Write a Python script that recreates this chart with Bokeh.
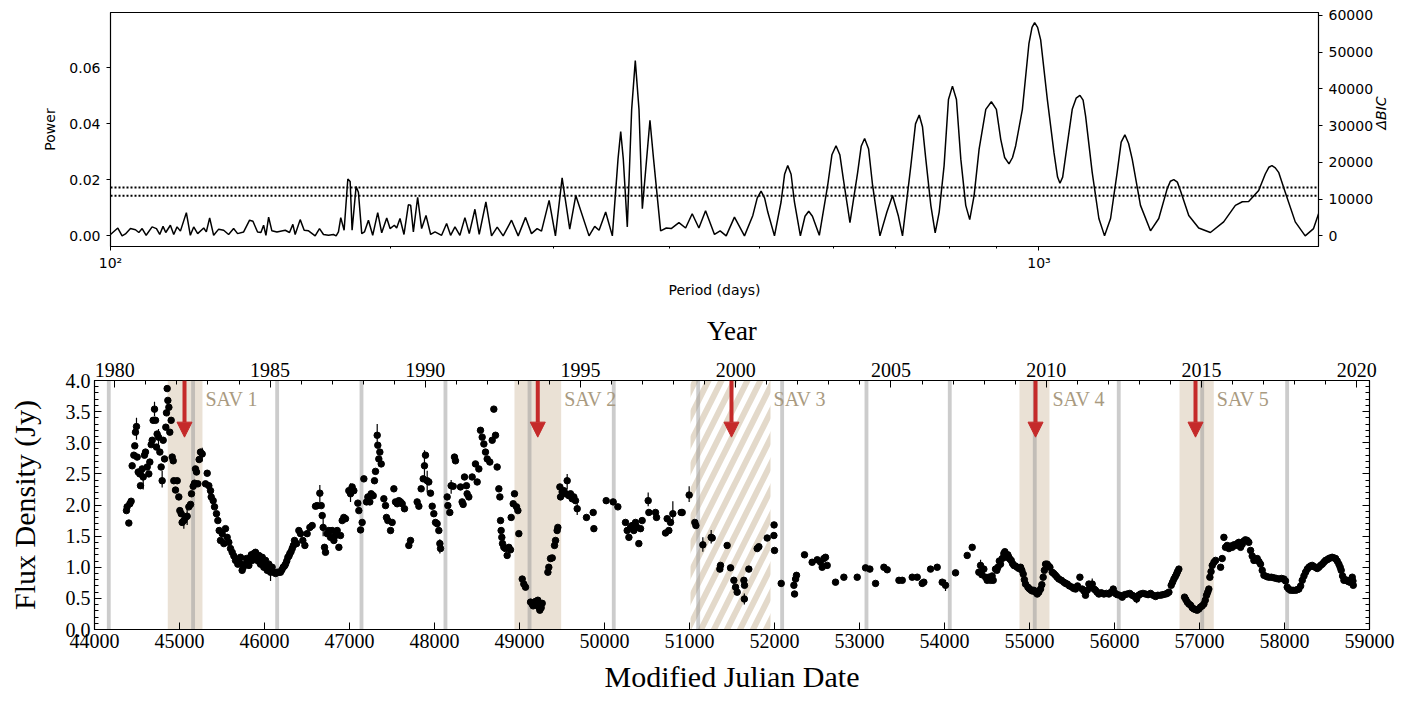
import math
import numpy as np
from bokeh.plotting import figure
from bokeh.models import (ColumnDataSource, Range1d, LinearAxis, FixedTicker, SingleIntervalTicker,
                          NumeralTickFormatter, CustomJSTickFormatter, Span, Arrow, NormalHead)
from bokeh.core.properties import value
from bokeh.embed import file_html
from bokeh.resources import INLINE

# ---------------- top panel: periodogram ----------------
log_period = [
    2.0000, 2.0079, 2.0125, 2.0161, 2.0215, 2.0269, 2.0305, 2.0341, 2.0384, 2.0448,
    2.0495, 2.0530, 2.0566, 2.0595, 2.0645, 2.0681, 2.0717, 2.0753, 2.0817, 2.0860,
    2.0896, 2.0939, 2.1004, 2.1032, 2.1068, 2.1111, 2.1165, 2.1219, 2.1272, 2.1326,
    2.1369, 2.1434, 2.1498, 2.1534, 2.1584, 2.1620, 2.1649, 2.1674, 2.1703, 2.1738,
    2.1792, 2.1882, 2.1928, 2.1964, 2.1989, 2.2043, 2.2086, 2.2133, 2.2204, 2.2251,
    2.2294, 2.2348, 2.2401, 2.2430, 2.2455, 2.2480, 2.2516, 2.2556, 2.2581, 2.2602,
    2.2645, 2.2670, 2.2706, 2.2735, 2.2778, 2.2824, 2.2878, 2.2921, 2.2975, 2.3011,
    2.3057, 2.3082, 2.3118, 2.3161, 2.3208, 2.3233, 2.3262, 2.3308, 2.3351, 2.3398,
    2.3448, 2.3495, 2.3566, 2.3620, 2.3663, 2.3710, 2.3763, 2.3817,
    2.3864, 2.3925, 2.3971, 2.4043, 2.4104, 2.4165, 2.4229, 2.4319, 2.4391, 2.4470,
    2.4534, 2.4595, 2.4642, 2.4724, 2.4792, 2.4864, 2.4946, 2.5011, 2.5154, 2.5215,
    2.5262, 2.5333, 2.5405, 2.5466, 2.5495, 2.5523, 2.5566, 2.5613, 2.5652, 2.5692,
    2.5728, 2.5774, 2.5810, 2.5849, 2.5925, 2.5986, 2.6039, 2.6122, 2.6194, 2.6265,
    2.6337, 2.6409, 2.6505, 2.6566, 2.6631, 2.6720,
    2.6828, 2.6918, 2.6965, 2.7007, 2.7045, 2.7079, 2.7151, 2.7222, 2.7260, 2.7294,
    2.7330, 2.7366, 2.7430, 2.7480, 2.7520, 2.7560, 2.7634, 2.7724, 2.7770, 2.7814,
    2.7855, 2.7893, 2.7964, 2.8047, 2.8085, 2.8122, 2.8165, 2.8208, 2.8287, 2.8362,
    2.8423, 2.8484, 2.8530, 2.8620, 2.8670, 2.8710, 2.8745, 2.8781, 2.8835, 2.8882,
    2.8925, 2.8978, 2.9025, 2.9068, 2.9111, 2.9158, 2.9211, 2.9254, 2.9301, 2.9355,
    2.9427, 2.9487, 2.9541, 2.9588, 2.9630, 2.9677, 2.9715, 2.9749, 2.9821, 2.9892,
    2.9925, 2.9953, 2.9985, 3.0018, 3.0090, 3.0161, 3.0200, 3.0226, 3.0255, 3.0287,
    3.0358, 3.0400, 3.0441, 3.0475, 3.0502, 3.0573, 3.0645, 3.0706, 3.0771, 3.0842,
    3.0885, 3.0925, 3.0965, 3.1004, 3.1093, 3.1201, 3.1290, 3.1380, 3.1415, 3.1452,
    3.1490, 3.1523, 3.1613, 3.1720, 3.1846, 3.1989, 3.2115, 3.2190, 3.2258, 3.2366,
    3.2437, 3.2475, 3.2509, 3.2545, 3.2581, 3.2652, 3.2760, 3.2867, 3.2957, 3.3011,
]
power = [
    0.0005, 0.0028, 0.0000, 0.0007, 0.0026, 0.0022, 0.0012, 0.0026, 0.0002, 0.0032,
    0.0026, 0.0005, 0.0034, 0.0012, 0.0038, 0.0005, 0.0032, 0.0017, 0.0083, 0.0002,
    0.0032, 0.0008, 0.0028, 0.0014, 0.0064, 0.0002, 0.0024, 0.0020, 0.0005, 0.0026,
    0.0008, 0.0014, 0.0056, 0.0052, 0.0014, 0.0012, 0.0038, 0.0002, 0.0067, 0.0018,
    0.0014, 0.0020, 0.0012, 0.0041, 0.0005, 0.0058, 0.0020, 0.0018, 0.0000, 0.0026,
    0.0005, 0.0002, 0.0005, 0.0000, 0.0014, 0.0065, 0.0020, 0.0203, 0.0194, 0.0020,
    0.0176, 0.0156, 0.0008, 0.0014, 0.0056, 0.0002, 0.0083, 0.0011, 0.0064, 0.0026,
    0.0038, 0.0028, 0.0062, 0.0005, 0.0111, 0.0109, 0.0014, 0.0138, 0.0026, 0.0073,
    0.0005, 0.0014, 0.0002, 0.0044, 0.0002, 0.0032, 0.0002, 0.0065,
    0.0008, 0.0095, 0.0005, 0.0121, 0.0000, 0.0031, 0.0000, 0.0056, 0.0000, 0.0066,
    0.0008, 0.0026, 0.0017, 0.0127, 0.0000, 0.0207, 0.0024, 0.0144, 0.0000, 0.0034,
    0.0020, 0.0085, 0.0000, 0.0274, 0.0373, 0.0274, 0.0032, 0.0452, 0.0626, 0.0452,
    0.0097, 0.0274, 0.0413, 0.0274, 0.0018, 0.0028, 0.0026, 0.0047, 0.0028, 0.0079,
    0.0028, 0.0090, 0.0005, 0.0018, 0.0000, 0.0067,
    0.0000, 0.0073, 0.0135, 0.0160, 0.0135, 0.0085, 0.0000, 0.0121, 0.0220, 0.0251,
    0.0220, 0.0121, 0.0000, 0.0070, 0.0088, 0.0070, 0.0002, 0.0180, 0.0290, 0.0322,
    0.0290, 0.0203, 0.0047, 0.0227, 0.0320, 0.0348, 0.0310, 0.0180, 0.0000, 0.0085,
    0.0144, 0.0073, 0.0000, 0.0251, 0.0400, 0.0432, 0.0390, 0.0274, 0.0109, 0.0011,
    0.0085, 0.0251, 0.0487, 0.0535, 0.0487, 0.0274, 0.0109, 0.0058, 0.0144, 0.0310,
    0.0452, 0.0479, 0.0452, 0.0345, 0.0280, 0.0257, 0.0280, 0.0322, 0.0452, 0.0688,
    0.0745, 0.0762, 0.0745, 0.0700, 0.0487, 0.0298, 0.0210, 0.0188, 0.0210, 0.0286,
    0.0452, 0.0492, 0.0502, 0.0485, 0.0428, 0.0227, 0.0062, 0.0000, 0.0062, 0.0227,
    0.0335, 0.0361, 0.0330, 0.0274, 0.0109, 0.0018, 0.0062, 0.0168, 0.0195, 0.0201,
    0.0192, 0.0162, 0.0073, 0.0028, 0.0012, 0.0050, 0.0109, 0.0122, 0.0123, 0.0162,
    0.0221, 0.0245, 0.0251, 0.0243, 0.0227, 0.0156, 0.0050, 0.0000, 0.0026, 0.0079,
]
significance_levels = [0.0173, 0.0143]
period_ticks = [100, 1000]
period_minor = [200, 300, 400, 500, 600, 700, 800, 900]
power_ticks = [0.00, 0.02, 0.04, 0.06]
bic_ticks = [0, 10000, 20000, 30000, 40000, 50000, 60000]

# ---------------- bottom panel: light curve ----------------
mjd = [
    44376, 44384, 44404, 44416, 44431, 44443, 44463, 44474, 44482, 44494,
    44502, 44514, 44533, 44541, 44561, 44573, 44588, 44600, 44620, 44639,
    44651, 44667, 44679, 44690, 44706, 44718, 44729, 44737, 44753, 44769,
    44784, 44796, 44808, 44824, 44839, 44847, 44855, 44863, 44875, 44886,
    44902, 44914, 44926, 44933, 44953, 44973, 44992, 45004, 45020, 45031,
    45051, 45071, 45090, 45110, 45130, 45141, 45161, 45177, 45188, 45200,
    45216, 45231, 45247, 45267, 45306, 45326, 45345, 45365, 45373, 45396,
    45412, 45435, 45451, 45467, 45482, 45502, 45522, 45541, 45561, 45580,
    45620, 45659, 45686, 45718, 45737, 45765, 45788, 45816, 45835, 45855,
    45875, 45894, 45914, 45934, 45953, 45973, 45992, 46012, 46032, 46051,
    46071, 46090, 46110, 46149, 46188, 46220, 46247, 46275, 46298, 46326,
    46353, 46377, 46404, 46424, 46451, 46475, 46502, 46534, 46561, 46600,
    46620, 46651, 46667, 46679, 46690, 46706, 46718, 46737, 46757, 46777,
    46796, 46816, 46836, 46855, 46875, 46894, 46914, 46933, 46953, 46992,
    47012, 47031, 47051, 47098, 47110, 47130, 47149, 47169, 47200, 47216,
    47239, 47255, 47279, 47294, 47306, 47326, 47333, 47345, 47357, 47373,
    47404, 47424, 47435, 47451, 47483, 47502, 47522, 47541, 47561, 47580,
    47600, 47620, 47647, 47698, 47718, 47796, 47816, 47843, 47867, 47882,
    47894, 47914, 47933, 47953, 47973, 47992, 48012, 48031, 48051, 48063,
    48071, 48149, 48157, 48180, 48196, 48220, 48235, 48247, 48306, 48325,
    48337, 48353, 48376, 48404, 48384, 48443, 48482, 48502, 48522, 48541,
    48561, 48581, 48600, 48620, 48651, 48679, 48698, 48718, 48737, 48757,
    48769, 48777, 48784, 48792, 48800, 48816, 48835, 48855, 48875, 48894,
    48902, 48926, 48941, 48965, 48981, 48992, 49032, 49051, 49071, 49130,
    49149, 49177, 49200, 49216, 49228, 49239, 49247, 49267, 49160, 49190,
    49255, 49334, 49345, 49365, 49385, 49412, 49424, 49443, 49451, 49475,
    49483, 49502, 49522, 49541, 49561, 49581, 49600, 49620, 49639, 49659,
    49679, 49788, 49867, 49875, 50020, 50102, 50157, 50247, 50267, 50287,
    50306, 50326, 50345, 50365, 50385, 50404, 50424, 50443, 50514, 50522,
    50600, 50612, 50718, 50737, 50757, 50777, 50804, 50902, 50914, 50996,
    51063, 51075, 51157, 51255, 51267, 51357, 51365, 51443, 51483, 51522,
    51542, 51561, 51640, 51647, 51645, 51698, 51796, 51816, 51914, 51993,
    51995, 52000, 52079, 52228, 52236, 52248, 52259, 52353, 52443, 52503,
    52542, 52561, 52581, 52600, 52620, 52718, 52816, 52973, 53071, 53122,
    53189, 53287, 53326, 53464, 53503, 53620, 53679, 53738, 53757, 53836,
    53914, 53973, 54012, 54130, 54267, 54326, 54404, 54424, 54463, 54483,
    54502, 54542, 54573, 54600, 54628, 54659, 54679, 54698, 54730, 54757,
    54785, 54816, 54855, 54895, 54926, 54953, 54981, 55012, 55051, 55091,
    55130, 55161, 55189, 55208, 55240, 55267, 55306, 55346, 55404, 55444,
    55502, 55542, 55593, 55620, 55659, 55699, 55738, 55777, 55816, 55875,
    55934, 55985, 56032, 56091, 56150, 56208, 56260, 56306, 56365, 56424,
    56483, 56542, 56601, 56640, 56667, 56699, 56730, 56757, 56824, 56856,
    56895, 56934, 56973, 57012, 57052, 57083, 57110, 57122, 57150, 57189,
    57248, 57267, 57287, 57306, 57346, 57385, 57424, 57463, 57483, 57522,
    57561, 57601, 57640, 57679, 57718, 57758, 57816, 57875, 57934, 57993,
    58032, 58071, 58130, 58169, 58209, 58248, 58287, 58326, 58365, 58404,
    58444, 58483, 58522, 58561, 58601, 58640, 58667, 58699, 58730, 58770,
    58797, 58809,
    45600, 45640, 45700, 45750, 45800, 45845, 45885, 45925, 45963, 46002,
    46042, 46080, 46130, 46170, 46205, 46235, 46262, 46288, 46312, 46340,
    54440, 54520, 54560, 54615, 54645, 54710, 54745, 54770, 54800, 54835,
    54875, 54910, 54940, 54995, 55030, 55070, 55110, 55145, 55175, 55225,
    55285, 55325, 55375, 55425, 55470, 55520, 55565, 55640, 55680, 55720,
    55760, 55795, 55845, 55905, 55960, 56010, 56060, 56120, 56180, 56235,
    56285, 56335, 56395, 56455, 56510, 56570, 56620, 56683, 56715, 56742,
    56840, 56875, 56915, 56955, 56993, 57032, 57068, 57097, 57136, 57170,
    57325, 57365, 57405, 57445, 57503, 57540, 57580, 57620, 57660, 57700,
    57738, 57790, 57845, 57905, 57965, 58012, 58050, 58100, 58150, 58190,
    58229, 58268, 58306, 58345, 58385, 58424, 58463, 58502, 58541, 58580,
    58620, 58655, 58683, 58715, 58750, 58785, 58805,
]
flux = [
    1.91, 1.97, 1.71, 2.02, 2.06, 2.63, 2.80, 2.95, 3.17, 3.26,
    2.77, 2.53, 2.50, 2.31, 2.58, 2.45, 2.80, 2.85, 2.61, 2.50,
    2.69, 2.97, 3.04, 3.36, 3.54, 3.36, 2.93, 3.14, 3.09, 2.85,
    2.61, 2.39, 3.04, 2.74, 3.25, 3.48, 3.87, 3.68, 3.57, 3.17,
    3.36, 2.77, 2.71, 2.39, 2.24, 2.39, 2.13, 1.91, 1.86, 1.72,
    1.75, 1.80, 1.82, 1.97, 2.01, 2.18, 2.30, 2.35, 2.58, 2.53,
    2.34, 2.73, 2.85, 2.82, 2.34, 2.51, 2.31, 2.23, 2.13, 2.07,
    1.97, 1.86, 1.75, 1.59, 1.43, 1.54, 1.38, 1.62, 1.48, 1.40,
    1.24, 1.11, 1.05, 1.16, 0.95, 1.05, 1.14, 1.03, 1.16, 1.11,
    1.22, 1.24, 1.14, 1.19, 1.05, 1.16, 1.00, 1.11, 0.95, 1.05,
    0.92, 1.00, 0.92, 0.92, 0.92, 1.00, 1.05, 1.16, 1.22, 1.30,
    1.43, 1.38, 1.59, 1.54, 1.43, 1.35, 1.54, 1.64, 1.67, 1.98,
    1.99, 2.19, 1.99, 1.83, 1.64, 1.32, 1.24, 1.54, 1.59, 1.48,
    1.59, 1.43, 1.51, 1.59, 1.32, 1.51, 1.75, 1.80, 1.78, 2.23,
    2.18, 2.29, 2.23, 2.03, 1.91, 1.60, 1.72, 2.42, 2.05, 2.13,
    2.05, 2.18, 2.15, 2.39, 2.54, 3.12, 2.96, 2.74, 2.85, 2.66,
    2.10, 1.99, 1.80, 1.75, 1.59, 1.72, 2.26, 2.05, 2.02, 2.07,
    2.05, 2.02, 1.94, 1.35, 1.43, 2.05, 1.98, 2.26, 2.42, 2.63,
    2.80, 2.39, 2.37, 2.19, 1.98, 1.86, 1.72, 1.70, 1.59, 1.38,
    1.30, 2.13, 1.99, 1.88, 2.31, 2.30, 2.77, 2.71, 2.29, 2.05,
    2.01, 2.45, 2.31, 2.13, 2.18, 2.45, 2.66, 2.37, 2.58, 3.20,
    3.09, 2.98, 2.85, 2.74, 2.69, 3.04, 3.54, 3.12, 2.61, 2.26,
    2.13, 1.75, 1.59, 1.48, 1.38, 1.32, 1.30, 1.19, 1.32, 1.28,
    1.80, 2.02, 2.18, 1.97, 1.91, 1.54, 0.81, 0.73, 0.68, 0.44,
    0.41, 0.44, 0.39, 0.47, 0.36, 0.31, 0.41, 0.42, 0.38, 0.45,
    0.35, 0.92, 1.00, 1.14, 1.15, 1.35, 1.43, 1.59, 1.64, 2.29,
    2.13, 2.21, 2.23, 2.18, 2.39, 2.15, 2.18, 2.10, 2.13, 2.07,
    1.94, 1.80, 1.88, 1.62, 2.07, 2.05, 1.97, 1.72, 1.59, 1.48,
    1.64, 1.67, 1.59, 1.72, 1.64, 1.38, 1.62, 1.75, 2.07, 1.88,
    1.88, 1.80, 1.55, 1.78, 1.59, 1.72, 1.86, 1.88, 1.88, 2.16,
    1.72, 1.67, 1.36, 1.48, 1.47, 0.97, 1.03, 1.35, 0.99, 0.79,
    0.68, 0.60, 0.79, 0.71, 0.49, 0.97, 1.30, 1.33, 1.47, 1.51,
    1.68, 1.27, 0.74, 0.71, 0.57, 0.81, 0.87, 1.20, 1.08, 1.12,
    1.08, 1.00, 1.14, 1.16, 1.03, 0.76, 0.84, 0.84, 0.99, 0.97,
    0.74, 1.00, 0.96, 0.79, 0.79, 0.84, 0.84, 0.74, 0.76, 0.97,
    1.00, 0.76, 0.71, 0.91, 1.19, 1.32, 0.92, 1.03, 0.97, 0.84,
    0.79, 0.79, 0.79, 0.97, 1.00, 1.05, 1.14, 1.22, 1.16, 1.16,
    1.11, 1.03, 1.00, 1.00, 0.89, 0.73, 0.68, 0.64, 0.63, 0.57,
    0.65, 0.84, 1.05, 1.05, 1.00, 0.92, 0.87, 0.81, 0.76, 0.73,
    0.68, 0.65, 0.84, 0.65, 0.55, 0.73, 0.73, 0.63, 0.57, 0.57,
    0.57, 0.65, 0.56, 0.52, 0.57, 0.55, 0.49, 0.57, 0.57, 0.58,
    0.53, 0.55, 0.57, 0.60, 0.71, 0.81, 0.89, 0.97, 0.52, 0.44,
    0.39, 0.33, 0.31, 0.36, 0.41, 0.55, 0.65, 0.84, 1.03, 1.11,
    1.00, 1.14, 1.48, 1.32, 1.30, 1.32, 1.35, 1.40, 1.32, 1.42,
    1.43, 1.27, 1.11, 1.14, 1.05, 0.87, 0.84, 0.83, 0.81, 0.81,
    0.68, 0.63, 0.63, 0.65, 0.79, 0.92, 1.00, 1.03, 1.00, 1.00,
    1.05, 1.11, 1.14, 1.16, 1.14, 1.05, 0.95, 0.79, 0.79, 0.76,
    0.84, 0.71,
    1.30, 1.18, 1.10, 1.00, 1.08, 1.20, 1.15, 1.10, 1.12, 1.05,
    1.00, 0.96, 0.90, 0.92, 0.96, 1.02, 1.10, 1.18, 1.25, 1.35,
    0.88, 0.84, 0.86, 0.95, 1.10, 1.25, 1.20, 1.13, 1.06, 1.02,
    0.98, 0.95, 0.80, 0.66, 0.62, 0.60, 0.60, 0.72, 0.95, 1.02,
    0.90, 0.84, 0.79, 0.74, 0.70, 0.66, 0.70, 0.62, 0.63, 0.68,
    0.65, 0.60, 0.59, 0.58, 0.60, 0.58, 0.55, 0.56, 0.58, 0.53,
    0.55, 0.58, 0.56, 0.55, 0.55, 0.56, 0.58, 0.76, 0.85, 0.93,
    0.48, 0.41, 0.35, 0.32, 0.33, 0.38, 0.47, 0.60, 0.93, 1.08,
    1.35, 1.34, 1.36, 1.38, 1.37, 1.44, 1.40, 1.18, 1.12, 1.09,
    0.95, 0.85, 0.84, 0.82, 0.82, 0.78, 0.65, 0.63, 0.64, 0.70,
    0.86, 0.97, 1.02, 1.01, 0.98, 1.03, 1.08, 1.12, 1.15, 1.15,
    1.10, 1.00, 0.86, 0.80, 0.77, 0.80, 0.78,
]
err_mjd = [44494, 44573, 44706, 44753, 44796, 45051, 45090, 45267, 46071, 46651,
           46690, 47012, 47326, 47882, 47914, 48063, 48196, 49561, 49679, 50514,
           50804, 50996, 51157, 51255, 51645, 54012, 54424, 55738, 56260]
err_lo = [3.05, 2.25, 3.42, 2.90, 2.28, 1.62, 1.68, 2.70, 0.78, 2.05,
          1.50, 2.05, 2.95, 2.40, 2.20, 1.22, 2.18, 2.25, 1.84, 1.98,
          1.72, 2.05, 1.25, 1.38, 0.40, 0.62, 0.95, 0.62, 0.42]
err_hi = [3.40, 2.62, 3.66, 3.22, 2.55, 1.88, 1.95, 2.92, 1.05, 2.32,
          1.80, 2.35, 3.30, 2.88, 2.55, 1.45, 2.40, 2.50, 2.02, 2.20,
          2.06, 2.30, 1.48, 1.60, 0.58, 0.80, 1.12, 0.82, 0.57]

gray_mjd = [44168, 45160, 46149, 47141, 48129, 49118, 50109, 51102, 52090,
            53082, 54062, 55062, 56050, 57032, 58031]
sav_names = ["SAV 1", "SAV 2", "SAV 3", "SAV 4", "SAV 5"]
sav_start = [44862, 48941, 51012, 54882, 56765]
sav_end = [45270, 49490, 51953, 55235, 57168]
sav_hatched = [False, False, True, False, False]
sav_arrow = [45059, 49215, 51494, 55071, 56953]
arrow_from, arrow_to = 4.0, 3.09
sav_label_y = 3.71
mjd_of_1980 = 44239.0

assert len(log_period) == len(power)
assert len(mjd) == len(flux)

# ---------------- styling ----------------
SANS = "DejaVu Sans"
SERIF = "Liberation Serif"
RED = "#c52a2a"
TAN = "#d8c9b3"
TAN_TEXT = "#a99a80"

def style_axis(ax, font, size, lsize, tick_in, tick_out, minor_in, minor_out):
    ax.major_label_text_font = font
    ax.major_label_text_font_size = size
    ax.major_label_text_color = "black"
    ax.axis_label_text_font = font
    ax.axis_label_text_font_size = lsize
    ax.axis_label_text_font_style = "normal"
    ax.axis_label_text_color = "black"
    ax.axis_line_color = "black"
    ax.major_tick_line_color = "black"
    ax.minor_tick_line_color = "black"
    ax.major_tick_in = tick_in
    ax.major_tick_out = tick_out
    ax.minor_tick_in = minor_in
    ax.minor_tick_out = minor_out

# ---- top figure
p1 = figure(width=1400, height=300, x_axis_type="log",
            x_range=Range1d(100, 2000), y_range=Range1d(-0.0038, 0.0798),
            output_backend="svg", toolbar_location=None,
            min_border_left=110, min_border_right=80, min_border_top=12, min_border_bottom=52)
p1.grid.visible = False
p1.outline_line_color = "black"
p1.outline_line_width = 1.2
p1.extra_y_ranges = {"bic": Range1d(-2860, 60800)}

xa = p1.xaxis[0]
xa.ticker = FixedTicker(ticks=period_ticks, minor_ticks=period_minor)
xa.formatter = CustomJSTickFormatter(code="return tick < 500 ? '10\u00b2' : '10\u00b3';")
xa.axis_label = "Period (days)"
style_axis(xa, SANS, "14px", "14px", 0, 4, 0, 2)
xa.major_label_standoff = 4
xa.axis_label_standoff = 8

ya = p1.yaxis[0]
ya.ticker = FixedTicker(ticks=power_ticks)
ya.formatter = NumeralTickFormatter(format="0.00")
ya.axis_label = "Power"
style_axis(ya, SANS, "14px", "14px", 0, 4, 0, 0)
ya.major_label_standoff = 6
ya.axis_label_standoff = 8

yb = LinearAxis(y_range_name="bic", ticker=FixedTicker(ticks=bic_ticks),
                formatter=NumeralTickFormatter(format="0"), axis_label="\u0394BIC")
style_axis(yb, SANS, "14px", "14px", 0, 4, 0, 0)
yb.axis_label_text_font_style = "italic"
yb.major_label_standoff = 6
yb.axis_label_standoff = 5
try:
    yb.axis_label_orientation = math.pi / 2
except Exception:
    pass
p1.add_layout(yb, "right")

p1.line(10 ** np.array(log_period), power, line_color="black", line_width=1.5)
for lvl in significance_levels:
    p1.add_layout(Span(location=lvl, dimension="width", line_color="black",
                       line_width=2, line_dash="2 2"))

# ---- bottom figure
def to_year(m):
    return 1980.0 + (m - mjd_of_1980) / 365.25

p2 = figure(width=1405, height=400, x_range=Range1d(44000, 59000), y_range=Range1d(0, 4),
            output_backend="svg", toolbar_location=None,
            min_border_left=94, min_border_right=36, min_border_top=80, min_border_bottom=71)
p2.grid.visible = False
p2.outline_line_color = "black"
p2.outline_line_width = 1.2
p2.extra_x_ranges = {"year": Range1d(to_year(44000), to_year(59000))}

bx = p2.xaxis[0]
bx.ticker = SingleIntervalTicker(interval=1000, num_minor_ticks=0)
bx.formatter = NumeralTickFormatter(format="0")
bx.axis_label = "Modified Julian Date"
style_axis(bx, SERIF, "20px", "30px", 7, 0, 0, 0)
bx.major_label_standoff = 4
bx.axis_label_standoff = 9

by = p2.yaxis[0]
by.ticker = SingleIntervalTicker(interval=0.5, num_minor_ticks=5)
by.formatter = NumeralTickFormatter(format="0.0")
by.axis_label = "Flux Density (Jy)"
style_axis(by, SERIF, "20px", "30px", 7, 0, 4, 0)
by.major_label_standoff = 4
by.axis_label_standoff = 22

ry = LinearAxis(ticker=SingleIntervalTicker(interval=0.5, num_minor_ticks=5),
                formatter=CustomJSTickFormatter(code="return '';"))
style_axis(ry, SERIF, "1px", "1px", 7, 0, 4, 0)
ry.major_label_standoff = 0
p2.add_layout(ry, "right")

tx = LinearAxis(x_range_name="year", ticker=SingleIntervalTicker(interval=5, num_minor_ticks=5),
                formatter=NumeralTickFormatter(format="0"), axis_label="Year")
style_axis(tx, SERIF, "20px", "27px", 7, 0, 4, 0)
tx.major_label_standoff = 4
tx.axis_label_standoff = 14
p2.add_layout(tx, "above")

# SAV bands
solid = [i for i, h in enumerate(sav_hatched) if not h]
hatch = [i for i, h in enumerate(sav_hatched) if h]
p2.quad(left=[sav_start[i] for i in solid], right=[sav_end[i] for i in solid],
        bottom=0, top=4, fill_color=TAN, fill_alpha=0.55, line_color=None)
p2.quad(left=[sav_start[i] for i in hatch], right=[sav_end[i] for i in hatch],
        bottom=0, top=4, fill_color=None, line_color=None,
        hatch_pattern="/", hatch_color="#e3d9ca", hatch_weight=6, hatch_scale=26)

# periodic gray markers
p2.vbar(x=gray_mjd, width=45, bottom=0, top=4, fill_color="#9a9a9a", fill_alpha=0.5,
        line_color=None)

# data
p2.segment(x0=err_mjd, y0=err_lo, x1=err_mjd, y1=err_hi, line_color="black", line_width=1.2)
p2.scatter(mjd, flux, size=6.5, fill_color="black", line_color="black")

# arrows
arr_src = ColumnDataSource(dict(x=sav_arrow, y0=[arrow_from] * len(sav_arrow),
                                y1=[arrow_to] * len(sav_arrow)))
p2.add_layout(Arrow(x_start="x", y_start="y0", x_end="x", y_end="y1", source=arr_src,
                    line_color=RED, line_width=4,
                    end=NormalHead(size=15, fill_color=RED, line_color=RED, line_width=1)))

p2.text(x=sav_end, y=sav_label_y, text=sav_names, text_font=value(SERIF),
        text_font_size="20px", text_color=TAN_TEXT, text_baseline="middle",
        text_align="left", x_offset=3)

open("out.html", "w").write(file_html([p1, p2], INLINE))
